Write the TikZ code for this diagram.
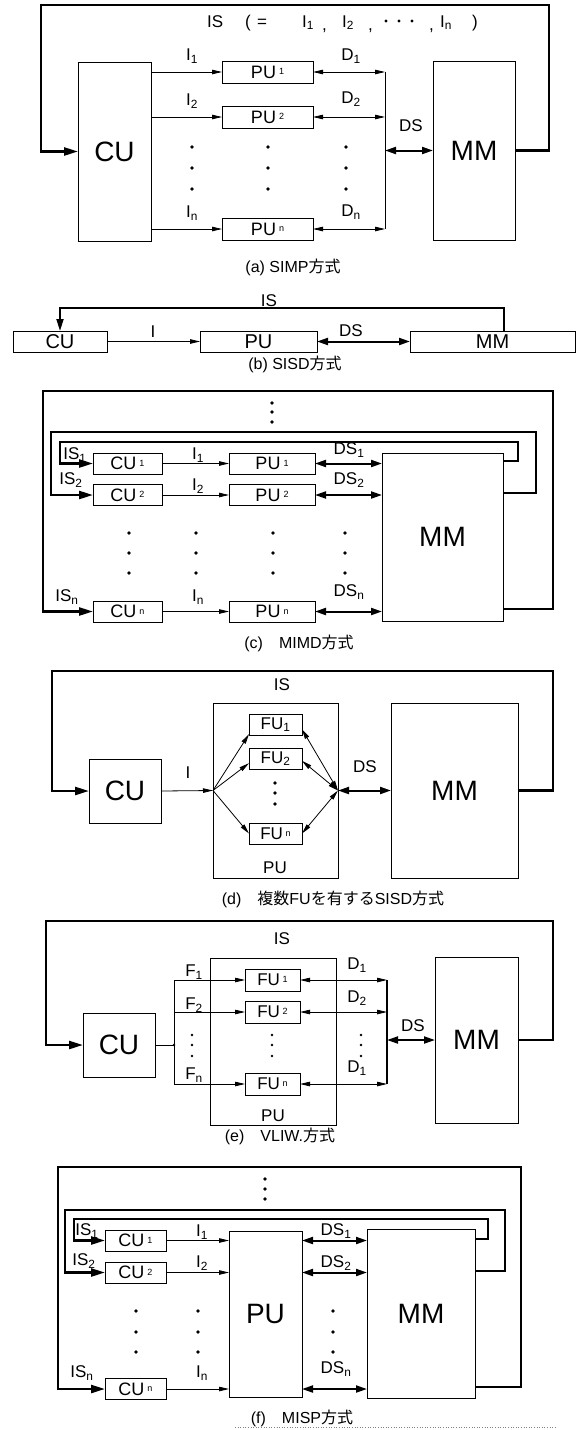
\documentclass[tikz,border=0pt]{standalone}
\usepackage{fontspec}
\setmainfont{Liberation Sans}
\newfontfamily\jpfont{Noto Sans CJK JP}
\usetikzlibrary{arrows.meta}
\newcommand\ix[1]{\,\raisebox{0.35ex}{\fontsize{9}{9}\selectfont #1}}
\newcommand\jp[1]{{\jpfont #1}}
\begin{document}
\begin{tikzpicture}[x=1pt,y=-1pt,
  bx/.style={draw, line width=1pt, inner sep=0pt, outer sep=0pt},
  big/.style={bx, font=\fontsize{28}{28}\selectfont},
  sm/.style={bx, font=\fontsize{18}{18}\selectfont},
  bsm/.style={bx, font=\fontsize{20}{20}\selectfont, minimum height=21pt},
  lbl/.style={inner sep=0pt, font=\fontsize{17}{17}\selectfont},
  capn/.style={inner sep=0pt, font=\fontsize{16}{16}\selectfont},
  arr/.style={line width=0.8pt, -{Triangle[length=10pt,width=4.5pt]}},
  darr/.style={line width=0.8pt, {Triangle[length=10pt,width=4.5pt]}-{Triangle[length=10pt,width=4.5pt]}},
  dsarr/.style={line width=2pt, {Triangle[length=11pt,width=7pt]}-{Triangle[length=11pt,width=7pt]}},
  lp/.style={line width=2.4pt, -{Triangle[length=14pt,width=8pt]}},
  blp/.style={line width=1.8pt, -{Triangle[length=12pt,width=7pt]}},
]
\useasboundingbox[fill=white] (0,0) rectangle (583,1430);

% ================= (a) SIMP =================
\node[big, minimum width=73pt, minimum height=179pt] (aCU) at (114.5,151.5) {CU};
\node[big, minimum width=82pt, minimum height=179pt] (aMM) at (474,150.5) {MM};
\node[sm, minimum width=91pt, minimum height=22pt] (aPU1) at (267.5,72) {PU\ix{1}};
\node[sm, minimum width=91pt, minimum height=22pt] (aPU2) at (267.5,117) {PU\ix{2}};
\node[sm, minimum width=91pt, minimum height=22pt] (aPUn) at (267.5,229) {PU\ix{n}};
\coordinate (aB1) at (385,72);
\coordinate (aB2) at (385,117);
\coordinate (aBn) at (385,229);
\coordinate (aBD) at (385,150.5);
\coordinate (aTR) at (549,5);
\coordinate (aTL) at (41,5);
\draw[lp] (aMM.east) -| (aTR) -- (aTL) |- (aCU.west);
\draw[arr] (aCU.east |- aPU1) -- (aPU1.west);
\draw[arr] (aCU.east |- aPU2) -- (aPU2.west);
\draw[arr] (aCU.east |- aPUn) -- (aPUn.west);
\draw[darr] (aPU1.east) -- (aB1);
\draw[darr] (aPU2.east) -- (aB2);
\draw[darr] (aPUn.east) -- (aBn);
\draw[line width=1pt] (aB1) -- (aBn);
\draw[dsarr] (aBD) -- (aMM.west);
\node[lbl] (aI1) at (192,56) {I\textsubscript{1}};
\node[lbl] (aI2) at (192,101) {I\textsubscript{2}};
\node[lbl] (aIn) at (192,213) {I\textsubscript{n}};
\node[lbl] (aD1) at (351,56) {D\textsubscript{1}};
\node[lbl] (aD2) at (351,99) {D\textsubscript{2}};
\node[lbl] (aDn) at (351,212) {D\textsubscript{n}};
\node[lbl] (aDS) at (411,126) {DS};
\foreach \x in {192,268,346}{\foreach \y in {147,168,189}{\fill (\x,\y) circle (1.8pt);}}
% IS (= I1, I2, ..., In)
\node[lbl, anchor=base west] (aIS) at (207,27) {IS};
\node[lbl, anchor=base west] (aP1) at (245,27) {(};
\node[lbl, anchor=base west] (aEq) at (257,27) {=};
\node[lbl, anchor=base west] (aS1) at (302,27) {I\textsubscript{1}};
\node[lbl, anchor=base west] (aC1) at (322,30) {,};
\node[lbl, anchor=base west] (aS2) at (342,27) {I\textsubscript{2}};
\node[lbl, anchor=base west] (aC2) at (368,30) {,};
\foreach \x in {386,399,412}{\fill (\x,21) circle (1.6pt);}
\node[lbl, anchor=base west] (aC3) at (429,30) {,};
\node[lbl, anchor=base west] (aSn) at (440,27) {I\textsubscript{n}};
\node[lbl, anchor=base west] (aP2) at (472,27) {)};
\node[capn] (aCap) at (293,267) {(a)\ SIMP\jp{方式}};

% ================= (b) SISD =================
\node[bsm, minimum width=94pt] (bCU) at (60,341.5) {CU};
\node[bsm, minimum width=117pt] (bPU) at (258.5,341.5) {PU};
\node[bsm, minimum width=165pt] (bMM) at (492.5,341.5) {MM};
\coordinate (bTR) at (504,308);
\draw[blp] (bMM.north -| bTR) -- (bTR) -| (bCU.north);
\draw[arr] (bCU.east) -- (bPU.west);
\draw[dsarr] (bPU.east) -- (bMM.west);
\node[lbl] (bIS) at (269,301) {IS};
\node[lbl] (bI) at (153,332) {I};
\node[lbl] (bDS) at (351,331) {DS};
\node[capn] (bCap) at (295,364) {(b)\ SISD\jp{方式}};

% ================= (c) MIMD =================
\node[sm, minimum width=69pt, minimum height=21pt] (cCU1) at (127.5,463.5) {CU\ix{1}};
\node[sm, minimum width=69pt, minimum height=21pt] (cCU2) at (127.5,495) {CU\ix{2}};
\node[sm, minimum width=69pt, minimum height=21pt] (cCUn) at (127.5,611.5) {CU\ix{n}};
\node[sm, minimum width=86pt, minimum height=21pt] (cPU1) at (272,463.5) {PU\ix{1}};
\node[sm, minimum width=86pt, minimum height=21pt] (cPU2) at (272,495) {PU\ix{2}};
\node[sm, minimum width=86pt, minimum height=21pt] (cPUn) at (272,611.5) {PU\ix{n}};
\node[big, minimum width=121pt, minimum height=168pt] (cMM) at (442.5,537) {MM};
\coordinate (cO1) at (553,391);
\coordinate (cO2) at (43,391);
\coordinate (cL21) at (536,432);
\coordinate (cL22) at (51,432);
\coordinate (cL11) at (518,442);
\coordinate (cL12) at (60,442);
\draw[lp] (cMM.east |- 0,609) -| (cO1) -- (cO2) |- (cCUn.west);
\draw[lp] (cMM.east |- 0,493) -| (cL21) -- (cL22) |- (cCU2.west);
\draw[lp] (cMM.east |- 0,461) -| (cL11) -- (cL12) |- (cCU1.west);
\draw[arr] (cCU1.east) -- (cPU1.west);
\draw[arr] (cCU2.east) -- (cPU2.west);
\draw[arr] (cCUn.east) -- (cPUn.west);
\draw[dsarr] (cPU1.east) -- (cPU1.east -| cMM.west);
\draw[dsarr] (cPU2.east) -- (cPU2.east -| cMM.west);
\draw[dsarr] (cPUn.east) -- (cPUn.east -| cMM.west);
\node[lbl] (cIS1) at (75,455) {IS\textsubscript{1}};
\node[lbl] (cIS2) at (71,480) {IS\textsubscript{2}};
\node[lbl] (cISn) at (67,597) {IS\textsubscript{n}};
\node[lbl] (cI1) at (198,455) {I\textsubscript{1}};
\node[lbl] (cI2) at (198,486) {I\textsubscript{2}};
\node[lbl] (cIn) at (198,597) {I\textsubscript{n}};
\node[lbl] (cDS1) at (349,450) {DS\textsubscript{1}};
\node[lbl] (cDS2) at (349,480) {DS\textsubscript{2}};
\node[lbl] (cDSn) at (349,592) {DS\textsubscript{n}};
\foreach \y in {403,412,422}{\fill (272,\y) circle (1.8pt);}
\foreach \x in {129,196,273,345}{\foreach \y in {533,553,573}{\fill (\x,\y) circle (1.8pt);}}
\node[capn] (cCap) at (299,643) {(c)\quad MIMD\jp{方式}};

% ================= (d) SISD with multiple FU =================
\node[big, minimum width=72pt, minimum height=64pt] (dCU) at (125,791) {CU};
\node[bx, minimum width=125pt, minimum height=175pt] (dPU) at (275.5,790.5) {};
\node[big, minimum width=127pt, minimum height=175pt] (dMM) at (454.5,790.5) {MM};
\node[bx, font=\fontsize{17}{17}\selectfont, minimum width=53pt, minimum height=21pt] (dFU1) at (275.5,724.5) {FU\textsubscript{1}};
\node[bx, font=\fontsize{17}{17}\selectfont, minimum width=53pt, minimum height=21pt] (dFU2) at (275.5,758.5) {FU\textsubscript{2}};
\node[bx, font=\fontsize{17}{17}\selectfont, minimum width=53pt, minimum height=21pt] (dFUn) at (275.5,833.5) {FU\ix{n}};
\coordinate (dTR) at (553,671);
\coordinate (dTL) at (52,671);
\draw[lp] (dMM.east) -| (dTR) -- (dTL) |- (dCU.west);
\draw[arr] (dCU.east) -- (dPU.west);
\draw[arr] (dPU.west) -- (dFU1.200);
\draw[arr] (dPU.west) -- (dFU2.190);
\draw[arr] (dPU.west) -- (dFUn.west);
\draw[darr] (dPU.east) -- (dFU1.-10);
\draw[darr] (dPU.east) -- (dFU2.-5);
\draw[darr] (dPU.east) -- (dFUn.east);
\draw[dsarr] (dPU.east) -- (dMM.west);
\foreach \y in {783,793,804}{\fill (275,\y) circle (1.8pt);}
\node[lbl] (dIS) at (282,685) {IS};
\node[lbl] (dI) at (188,773) {I};
\node[lbl] (dDS) at (365,767) {DS};
\node[lbl] (dPUl) at (275,868) {PU};
\node[capn] (dCap) at (333,899) {(d)\quad\jp{複数}FU\jp{を有する}SISD\jp{方式}};

% ================= (e) VLIW =================
\node[big, minimum width=72pt, minimum height=64pt] (eCU) at (119,1045) {CU};
\node[bx, minimum width=126pt, minimum height=167pt] (ePU) at (273,1041.5) {};
\node[big, minimum width=83pt, minimum height=166pt] (eMM) at (476.5,1040) {MM};
\node[bx, font=\fontsize{17}{17}\selectfont, minimum width=55pt, minimum height=22pt] (eFU1) at (272.5,980) {FU\ix{1}};
\node[bx, font=\fontsize{17}{17}\selectfont, minimum width=55pt, minimum height=22pt] (eFU2) at (272.5,1012) {FU\ix{2}};
\node[bx, font=\fontsize{17}{17}\selectfont, minimum width=55pt, minimum height=22pt] (eFUn) at (272.5,1084) {FU\ix{n}};
\coordinate (eTR) at (553,921);
\coordinate (eTL) at (46,921);
\draw[lp] (eMM.east) -| (eTR) -- (eTL) |- (eCU.west);
\coordinate (eJ) at (174,1045);
\draw[line width=0.8pt] (eCU.east) -- (eJ);
\fill (eJ) circle (1.4pt);
\draw[line width=0.8pt] (eJ |- eFU1) -- (eJ |- eFUn);
\draw[arr] (eJ |- eFU1) -- (eFU1.west);
\draw[arr] (eJ |- eFU2) -- (eFU2.west);
\draw[arr] (eJ |- eFUn) -- (eFUn.west);
\coordinate (eB1) at (387,980);
\coordinate (eB2) at (387,1012);
\coordinate (eBn) at (387,1084);
\coordinate (eBD) at (387,1040);
\draw[darr] (eFU1.east) -- (eB1);
\draw[darr] (eFU2.east) -- (eB2);
\draw[darr] (eFUn.east) -- (eBn);
\draw[line width=1.4pt] (eB1) -- (eBn);
\draw[dsarr] (eBD) -- (eMM.west);
\foreach \x in {192,272,361}{\foreach \y in {1035,1045,1056}{\fill (\x,\y) circle (1.4pt);}}
\node[lbl] (eIS) at (282,939) {IS};
\node[lbl] (eF1) at (194,972) {F\textsubscript{1}};
\node[lbl] (eF2) at (194,1005) {F\textsubscript{2}};
\node[lbl] (eFn) at (194,1075) {F\textsubscript{n}};
\node[lbl] (eD1) at (357,965) {D\textsubscript{1}};
\node[lbl] (eD2) at (357,998) {D\textsubscript{2}};
\node[lbl] (eD3) at (357,1068) {D\textsubscript{1}};
\node[lbl] (eDS) at (413,1026) {DS};
\node[lbl] (ePUl) at (273,1116) {PU};
\node[capn] (eCap) at (280,1136) {(e)\quad VLIW.\jp{方式}};

% ================= (f) MISP =================
\node[sm, minimum width=61pt, minimum height=21pt] (fCU1) at (135.5,1240.5) {CU\ix{1}};
\node[sm, minimum width=61pt, minimum height=21pt] (fCU2) at (135.5,1272.5) {CU\ix{2}};
\node[sm, minimum width=61pt, minimum height=21pt] (fCUn) at (135.5,1389) {CU\ix{n}};
\node[big, minimum width=73pt, minimum height=166pt] (fPU) at (265.5,1314) {PU};
\node[big, minimum width=108pt, minimum height=169pt] (fMM) at (421,1313.5) {MM};
\coordinate (fO1) at (521,1167);
\coordinate (fO2) at (58,1167);
\coordinate (fL21) at (505,1210);
\coordinate (fL22) at (65,1210);
\coordinate (fL11) at (488,1219);
\coordinate (fL12) at (74,1219);
\draw[lp] (fMM.east |- 0,1387) -| (fO1) -- (fO2) |- (fCUn.west);
\draw[lp] (fMM.east |- 0,1271) -| (fL21) -- (fL22) |- (fCU2.west);
\draw[lp] (fMM.east |- 0,1239) -| (fL11) -- (fL12) |- (fCU1.west);
\draw[arr] (fCU1.east) -- (fCU1.east -| fPU.west);
\draw[arr] (fCU2.east) -- (fCU2.east -| fPU.west);
\draw[arr] (fCUn.east) -- (fCUn.east -| fPU.west);
\draw[dsarr] (fPU.east |- fCU1.east) -- (fMM.west |- fCU1.east);
\draw[dsarr] (fPU.east |- fCU2.east) -- (fMM.west |- fCU2.east);
\draw[dsarr] (fPU.east |- fCUn.east) -- (fMM.west |- fCUn.east);
\node[lbl] (fIS1) at (87,1231) {IS\textsubscript{1}};
\node[lbl] (fIS2) at (84,1261) {IS\textsubscript{2}};
\node[lbl] (fISn) at (82,1373) {IS\textsubscript{n}};
\node[lbl] (fI1) at (202,1232) {I\textsubscript{1}};
\node[lbl] (fI2) at (202,1263) {I\textsubscript{2}};
\node[lbl] (fIn) at (202,1373) {I\textsubscript{n}};
\node[lbl] (fDS1) at (336,1231) {DS\textsubscript{1}};
\node[lbl] (fDS2) at (336,1263) {DS\textsubscript{2}};
\node[lbl] (fDSn) at (336,1369) {DS\textsubscript{n}};
\foreach \y in {1179,1189,1199}{\fill (265,\y) circle (1.8pt);}
\foreach \x in {136,198,333}{\foreach \y in {1311,1332,1352}{\fill (\x,\y) circle (1.8pt);}}
\node[capn] (fCap) at (302,1418) {(f)\quad MISP\jp{方式}};
\draw[dotted, line width=0.6pt, gray] (235,1427) -- (557,1427);
\end{tikzpicture}
\end{document}
